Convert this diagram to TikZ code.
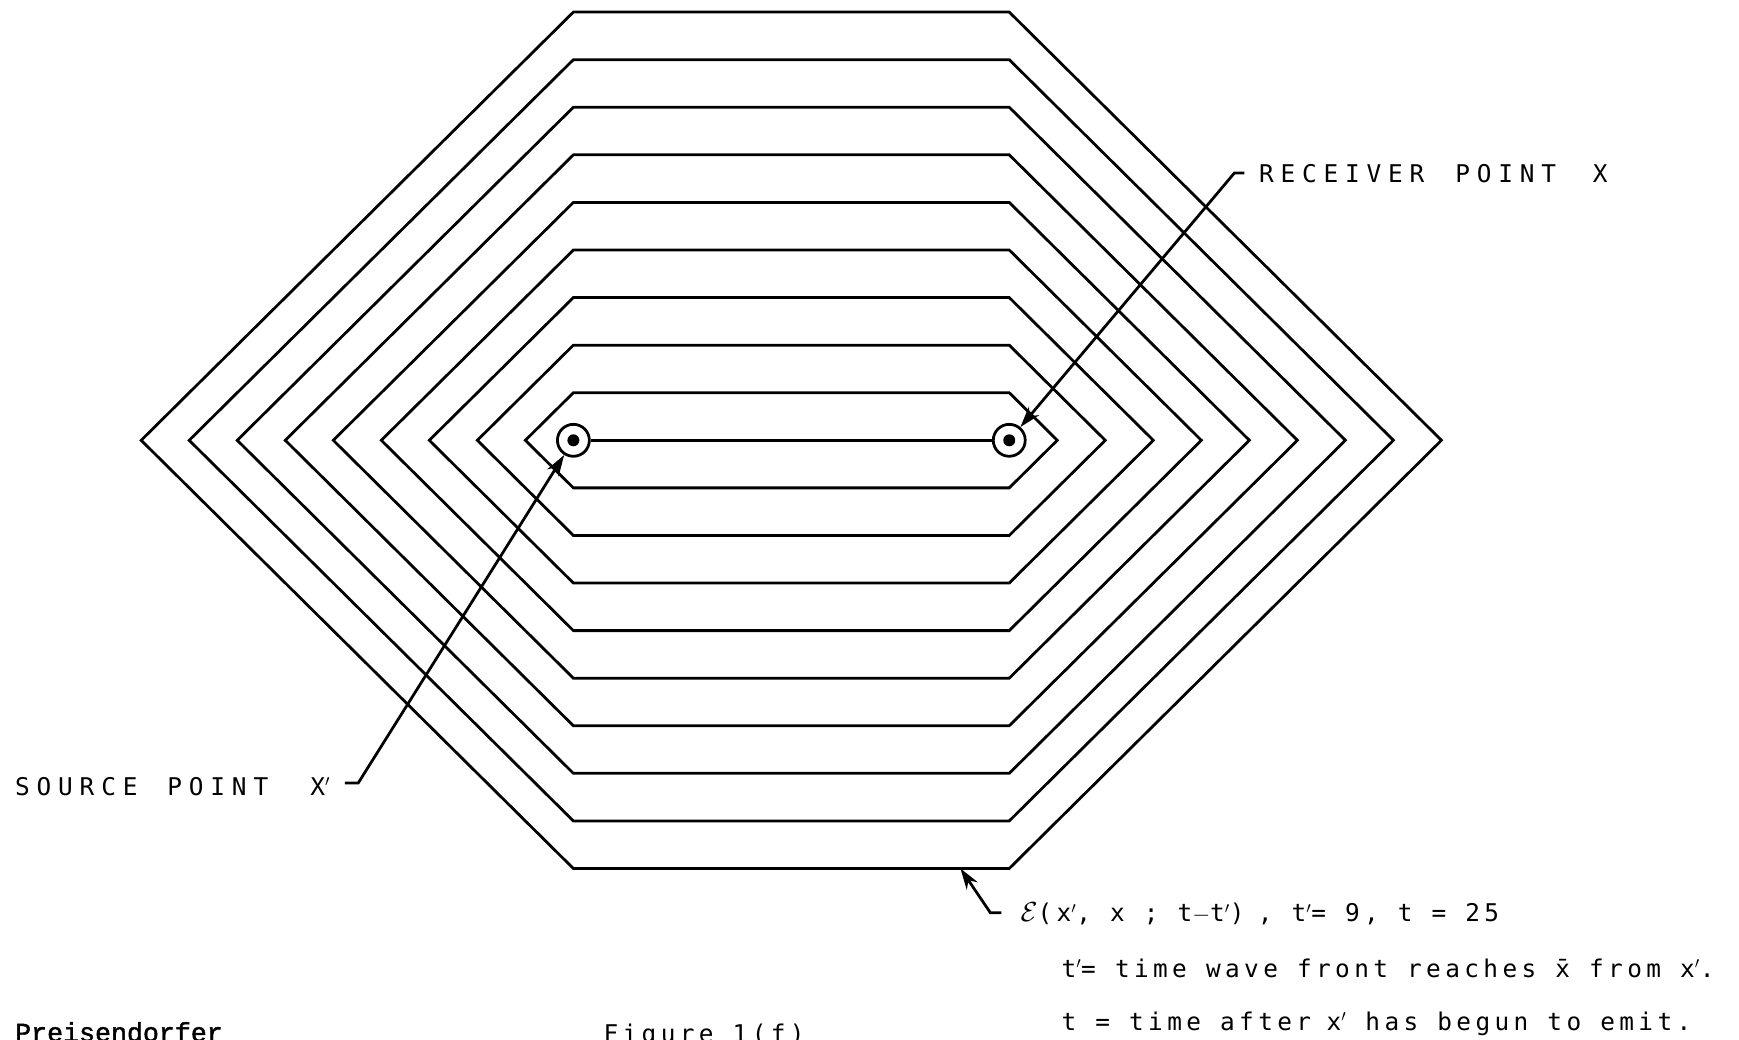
\documentclass[tikz,border=0pt]{standalone}
\usepackage{fontspec}
\usepackage{tikz}
\usetikzlibrary{arrows,arrows.meta,positioning,calc}
\newfontfamily\leroy[LetterSpace=28]{DejaVu Sans Mono}
\newfontfamily\leroysmall[LetterSpace=18]{DejaVu Sans Mono}
\newfontfamily\typer[FakeBold=1.5]{Liberation Mono}
\tikzstyle{front}   = [draw, line width=2.5pt, line join=miter]
\tikzstyle{station} = [circle, draw, line width=2.5pt, minimum size=28.8pt, inner sep=0pt]
\tikzstyle{lettering} = [inner sep=0pt, anchor=base west, font=\leroy\fontsize{22}{26}\selectfont]
\tikzstyle{note} = [inner sep=0pt, anchor=base west, font=\leroysmall\fontsize{22}{26}\selectfont]
\tikzstyle{line} = [draw, line width=2.5pt, -{Stealth[length=19pt,width=12pt]}]
\tikzstyle{tick} = [draw, line width=2.5pt]

\begin{document}
\begin{tikzpicture}[x=1pt,y=-1pt]
    \useasboundingbox (0,0) rectangle (1568,937);
    % wave fronts
    \foreach \k in {1,...,9}
        \draw [front] ({517-43.3*\k},397) -- (517,{397-42.9*\k}) -- (910,{397-42.9*\k})
            -- ({910+43.3*\k},397) -- (910,{397+42.9*\k}) -- (517,{397+42.9*\k}) -- cycle;

    % Place nodes
    \node [station] (src) at (517,397) {};
    \node [station] (rcv) at (910,397) {};
    \fill (src) circle (5.4pt);
    \fill (rcv) circle (5.4pt);
    \draw [tick] (src) -- (rcv);

    \node [lettering] (srcLabel) at (13.5,717) {SOURCE\hspace{27pt}POINT\hspace{38pt}X$^{\prime}$};
    \node [lettering] (rcvLabel) at (1135,165) {RECEIVER\hspace{28pt}POINT\hspace{33pt}X};
    \node [note] (epsLabel) at (920,831) {{\fontsize{30}{30}\selectfont$\mathcal{E}$}(x$^{\prime}$, x ; t$-$t$^{\prime}$)\hspace{12pt}, t$^{\prime}$= 9, t = 25};
    \node [note] (defA) at (957,881) {t$^{\prime}$= time wave front reaches \=x from x$^{\prime}$.};
    \node [note] (defB) at (957,929) {t = time after\hspace{14pt}x$^{\prime}$ has begun to emit.};
    \node [inner sep=0pt, anchor=base west, font=\typer\fontsize{24}{28}\selectfont] (author) at (13.5,939) {Preisendorfer};
    \node [note] (figLabel) at (544,940) {Figure 1(f)};

    \coordinate (srcTick) at (311,706); \coordinate (srcBend) at (323,706);
    \coordinate (rcvTick) at (1122,156); \coordinate (rcvBend) at (1113,156);
    \coordinate (epsTick) at (903,823); \coordinate (epsBend) at (893,823);
    \coordinate (edgePt) at (866,{397+42.9*9});

    \path [line] (srcTick) -- (srcBend) -- (src);
    \path [line] (rcvTick) -- (rcvBend) -- (rcv);
    \path [line] (epsTick) -- (epsBend) -- (edgePt);
\end{tikzpicture}
\end{document}
